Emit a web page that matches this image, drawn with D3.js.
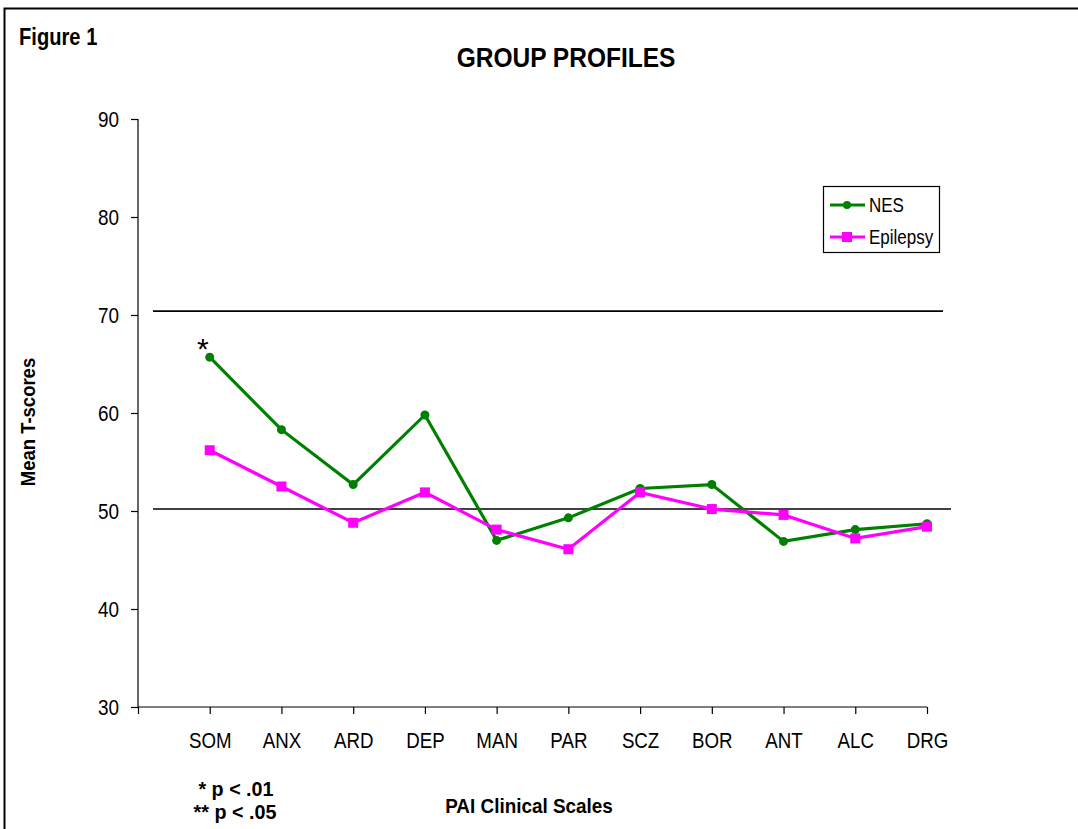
<!DOCTYPE html>
<html><head><meta charset="utf-8">
<script src="https://cdn.jsdelivr.net/npm/d3@7"></script>
<style>
body{margin:0;background:#fff;}
svg text{font-family:"Liberation Sans Narrow","Arial Narrow","Liberation Sans",Arial,sans-serif;fill:#000;}
</style></head>
<body><svg id="c" width="1078" height="829"></svg>
<script>
const categories = ["SOM","ANX","ARD","DEP","MAN","PAR","SCZ","BOR","ANT","ALC","DRG"];
const nesValues = [65.7,58.3,52.7,59.8,47.0,49.3,52.3,52.7,46.9,48.1,48.7];
const epilepsyValues = [56.2,52.5,48.8,51.9,48.1,46.1,51.9,50.2,49.6,47.2,48.4];
const yTicks = [30,40,50,60,70,80,90];
const refLines = [70.4, 50.2];
const seriesNames = ["NES","Epilepsy"];
const seriesColors = ["#008000","#FF00FF"];

const svg = d3.select("#c");
// condensed text helper (Arial Narrow look)
function label(x, y, txt, size, opts){
  opts = opts || {};
  const sx = opts.sx || 0.85;
  const g = svg.append("g").attr("transform",`translate(${x},${y})` + (opts.rotate?` rotate(${opts.rotate})`:"") + ` scale(${sx},1)`);
  const t = g.append("text").attr("font-size",size).attr("text-anchor",opts.anchor||"start").text(txt);
  if(opts.bold) t.attr("font-weight","bold");
  if(opts.dy) t.attr("dy",opts.dy);
  return t;
}

// frame
svg.append("path").attr("d","M4.5,1100V8.5H1100").attr("fill","none").attr("stroke","#000").attr("stroke-width",2);

const x = d3.scalePoint().domain(["", ...categories]).range([138, 927]);
const y = d3.scaleLinear().domain([30, 90]).range([707, 119]);

// reference lines
svg.selectAll("line.ref").data(refLines).enter().append("line")
  .attr("x1",153).attr("x2",(d,i)=> i===0?943:951)
  .attr("y1",d=>y(d)).attr("y2",d=>y(d))
  .attr("stroke","#000").attr("stroke-width",1.6);

// y axis
const ya = svg.append("g").attr("transform","translate(138,0)")
  .call(d3.axisLeft(y).tickValues(yTicks).tickSize(7).tickPadding(6));
ya.select(".domain").attr("stroke","#000").attr("stroke-width",1.2).attr("d","M0,"+y(90)+"V"+y(30));
ya.selectAll(".tick line").attr("stroke","#000").attr("stroke-width",1.2);
ya.selectAll("text").attr("font-size",22).attr("dy","0.35em").attr("x",-22).attr("transform","scale(0.86,1)");

// x axis
const xa = svg.append("g").attr("transform","translate(0,707)")
  .call(d3.axisBottom(x).tickSize(7).tickPadding(18));
xa.select(".domain").attr("stroke","#000").attr("stroke-width",1.2).attr("d","M138,0H927");
xa.selectAll(".tick line").attr("stroke","#000").attr("stroke-width",1.2);
xa.selectAll("text").attr("font-size",22).attr("transform","scale(0.85,1)");

// lines
const line = d3.line().x((d,i)=>x(categories[i])).y(d=>y(d));
[nesValues, epilepsyValues].forEach((vals, s)=>{
  svg.append("path").datum(vals).attr("d",line).attr("fill","none")
    .attr("stroke",seriesColors[s]).attr("stroke-width",3.2).attr("stroke-linejoin","miter");
});
svg.selectAll("circle.nes").data(nesValues).enter().append("circle")
  .attr("cx",(d,i)=>x(categories[i])).attr("cy",d=>y(d)).attr("r",4.5).attr("fill",seriesColors[0]);
svg.selectAll("rect.epi").data(epilepsyValues).enter().append("rect")
  .attr("x",(d,i)=>x(categories[i])-5).attr("y",d=>y(d)-5).attr("width",10).attr("height",10).attr("fill",seriesColors[1]);

// significance asterisk
svg.append("text").attr("x",x("SOM")-7).attr("y",y(nesValues[0])+2).attr("text-anchor","middle")
  .attr("font-size",30).text("*");

// titles
label(19, 45, "Figure 1", 24, {bold:true, sx:0.84});
label(566, 67, "GROUP PROFILES", 28, {bold:true, anchor:"middle", sx:0.875});
label(35, 422, "Mean T-scores", 21, {bold:true, anchor:"middle", rotate:-90, sx:0.88});
label(529, 813, "PAI Clinical Scales", 21, {bold:true, anchor:"middle", sx:0.9});
label(236, 796, "* p < .01", 21, {bold:true, anchor:"middle", sx:0.94});
label(235, 819, "** p < .05", 21, {bold:true, anchor:"middle", sx:0.94});

// legend
const lg = svg.append("g");
lg.append("rect").attr("x",823.5).attr("y",186.5).attr("width",116).attr("height",66).attr("fill","#fff").attr("stroke","#000").attr("stroke-width",1.2);
seriesNames.forEach((n,i)=>{
  const ly = 205 + i*32;
  lg.append("line").attr("x1",830).attr("x2",865).attr("y1",ly).attr("y2",ly).attr("stroke",seriesColors[i]).attr("stroke-width",3.2);
  if(i===0) lg.append("circle").attr("cx",847).attr("cy",ly).attr("r",4).attr("fill",seriesColors[i]);
  else lg.append("rect").attr("x",842).attr("y",ly-5).attr("width",10).attr("height",10).attr("fill",seriesColors[i]);
  label(869, ly, n, 20, {dy:"0.35em", sx:0.85});
});
</script></body></html>
